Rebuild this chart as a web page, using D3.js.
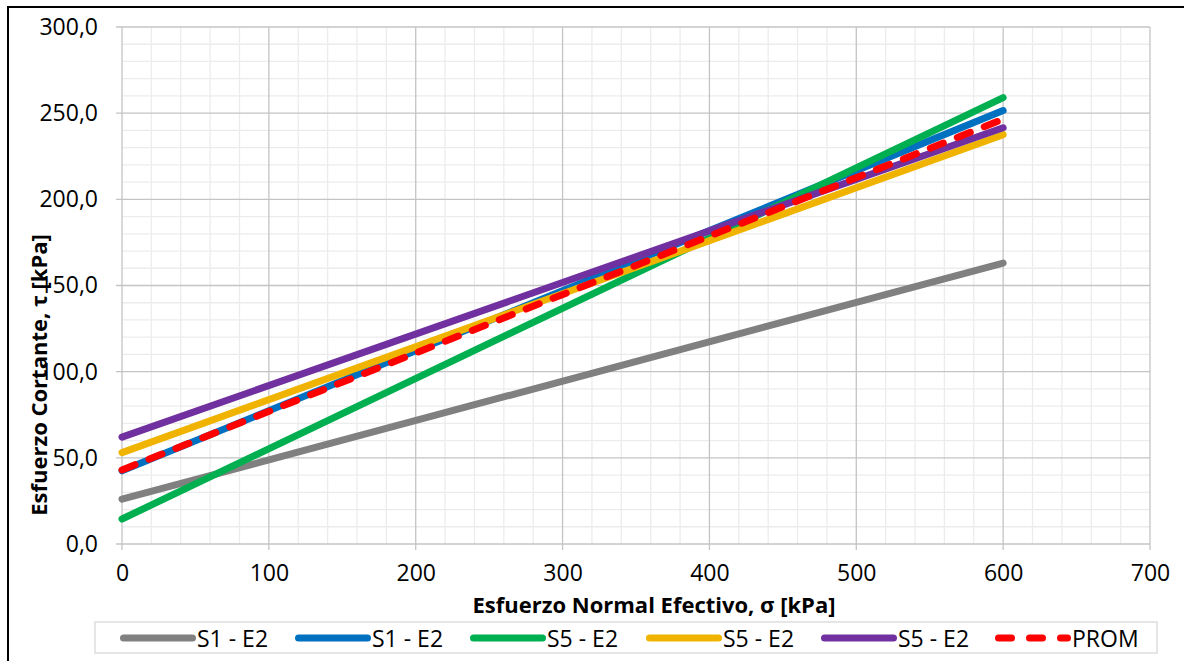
<!DOCTYPE html>
<html>
<head>
<meta charset="utf-8">
<script src="https://cdn.jsdelivr.net/npm/d3@7"></script>
<style>
  body { margin: 0; background: #fff; }
  svg { display: block; font-family: "Open Sans", "Noto Sans", sans-serif; }
</style>
</head>
<body>
<div id="wrapper"></div>
<script>
// data: each series is a straight line from sigma = 0 to 600
const seriesNames = ["S1 - E2", "S1 - E2", "S5 - E2", "S5 - E2", "S5 - E2", "PROM"]
const seriesColors = ["#808080", "#0070c0", "#00b050", "#f0b400", "#7030a0", "#ff0000"]
const sigmaValues = [0, 600]
const tauS1a = [26, 163]
const tauS1b = [42.5, 251.5]
const tauS5a = [14.5, 259]
const tauS5b = [53, 237.5]
const tauS5c = [62, 241.5]
const tauProm = [43, 246.5]
const xTicks = [0, 100, 200, 300, 400, 500, 600, 700]
const yTicks = [0, 50, 100, 150, 200, 250, 300]

const allTau = [tauS1a, tauS1b, tauS5a, tauS5b, tauS5c, tauProm]
const series = seriesNames.map((name, i) => ({
  name,
  color: seriesColors[i],
  dashed: name === "PROM",
  values: sigmaValues.map((s, j) => ({ sigma: s, tau: allTau[i][j] }))
}))

let dimensions = {
  width: 1184,
  height: 661,
  margin: { top: 27, right: 34, bottom: 117, left: 122 }
}
dimensions.boundedWidth = dimensions.width - dimensions.margin.left - dimensions.margin.right
dimensions.boundedHeight = dimensions.height - dimensions.margin.top - dimensions.margin.bottom

const svg = d3.select("#wrapper")
  .append("svg")
    .attr("width", dimensions.width)
    .attr("height", dimensions.height)

// outer chart frame (only top and left visible in the crop)
svg.append("path")
    .attr("d", "M8,661 V7 H1184")
    .attr("fill", "none")
    .attr("stroke", "#000")
    .attr("stroke-width", 2)

const bounds = svg.append("g")
    .attr("transform", `translate(${dimensions.margin.left},${dimensions.margin.top})`)

const xScale = d3.scaleLinear()
    .domain([0, 700])
    .range([0, dimensions.boundedWidth])

const yScale = d3.scaleLinear()
    .domain([0, 300])
    .range([dimensions.boundedHeight, 0])

// minor grid
const grid = bounds.append("g")
grid.selectAll(".vminor")
  .data(d3.range(20, 700, 20).filter(v => v % 100 !== 0))
  .join("line")
    .attr("x1", d => xScale(d)).attr("x2", d => xScale(d))
    .attr("y1", 0).attr("y2", dimensions.boundedHeight)
    .attr("stroke", "#ececec").attr("stroke-width", 1.3)
grid.selectAll(".hminor")
  .data(d3.range(10, 300, 10).filter(v => v % 50 !== 0))
  .join("line")
    .attr("x1", 0).attr("x2", dimensions.boundedWidth)
    .attr("y1", d => yScale(d)).attr("y2", d => yScale(d))
    .attr("stroke", "#ececec").attr("stroke-width", 1.3)

// major grid
grid.selectAll(".vmajor")
  .data(xTicks)
  .join("line")
    .attr("x1", d => xScale(d)).attr("x2", d => xScale(d))
    .attr("y1", 0).attr("y2", dimensions.boundedHeight + 6)
    .attr("stroke", "#c4c4c4").attr("stroke-width", 1.3)
grid.selectAll(".hmajor")
  .data(yTicks)
  .join("line")
    .attr("x1", -6).attr("x2", dimensions.boundedWidth)
    .attr("y1", d => yScale(d)).attr("y2", d => yScale(d))
    .attr("stroke", "#c4c4c4").attr("stroke-width", 1.3)

// axes (labels only, grid handles the lines)
const fmt = d3.formatLocale({ decimal: ",", thousands: ".", grouping: [3], currency: ["", ""] }).format(".1f")

const xAxis = bounds.append("g")
    .attr("transform", `translate(0,${dimensions.boundedHeight})`)
    .call(d3.axisBottom(xScale).tickValues(xTicks).tickSize(0).tickPadding(21).tickFormat(d3.format("d")))
xAxis.select(".domain").remove()
xAxis.selectAll("text")
    .attr("font-size", 23)
    .attr("fill", "#000")
    .attr("font-family", "Open Sans, sans-serif")

const yAxis = bounds.append("g")
    .call(d3.axisLeft(yScale).tickValues(yTicks).tickSize(0).tickPadding(24).tickFormat(fmt))
yAxis.select(".domain").remove()
yAxis.selectAll("text")
    .attr("font-size", 23)
    .attr("fill", "#000")
    .attr("font-family", "Open Sans, sans-serif")

// lines
const lineGenerator = d3.line()
    .x(d => xScale(d.sigma))
    .y(d => yScale(d.tau))

bounds.selectAll(".series")
  .data(series)
  .join("path")
    .attr("d", d => lineGenerator(d.values))
    .attr("fill", "none")
    .attr("stroke", d => d.color)
    .attr("stroke-width", 7)
    .attr("stroke-linecap", "round")
    .attr("stroke-dasharray", d => d.dashed ? "14 15" : null)

// axis titles
svg.append("text")
    .attr("x", 654)
    .attr("y", 613)
    .attr("text-anchor", "middle")
    .attr("font-size", 22)
    .attr("font-weight", "bold")
    .text("Esfuerzo Normal Efectivo, σ [kPa]")

svg.append("text")
    .attr("transform", "translate(47,375) rotate(-90)")
    .attr("text-anchor", "middle")
    .attr("font-size", 22)
    .attr("font-weight", "bold")
    .text("Esfuerzo Cortante, τ [kPa]")

// legend
const legend = svg.append("g")
legend.append("rect")
    .attr("x", 95).attr("y", 622)
    .attr("width", 1062).attr("height", 31)
    .attr("fill", "#fff")
    .attr("stroke", "#d9d9d9")
    .attr("stroke-width", 1.3)

const legendX = [120, 295, 470, 646, 821, 995]
const items = legend.selectAll(".item")
  .data(series)
  .join("g")
    .attr("transform", (d, i) => `translate(${legendX[i]},638)`)

items.append("line")
    .attr("x1", 3.5).attr("x2", 72.5)
    .attr("y1", 0).attr("y2", 0)
    .attr("stroke", d => d.color)
    .attr("stroke-width", 7)
    .attr("stroke-linecap", "round")
    .attr("stroke-dasharray", d => d.dashed ? "13 18" : null)

items.append("text")
    .attr("x", 77)
    .attr("y", 8.5)
    .attr("font-size", 23)
    .text(d => d.name)
</script>
</body>
</html>
